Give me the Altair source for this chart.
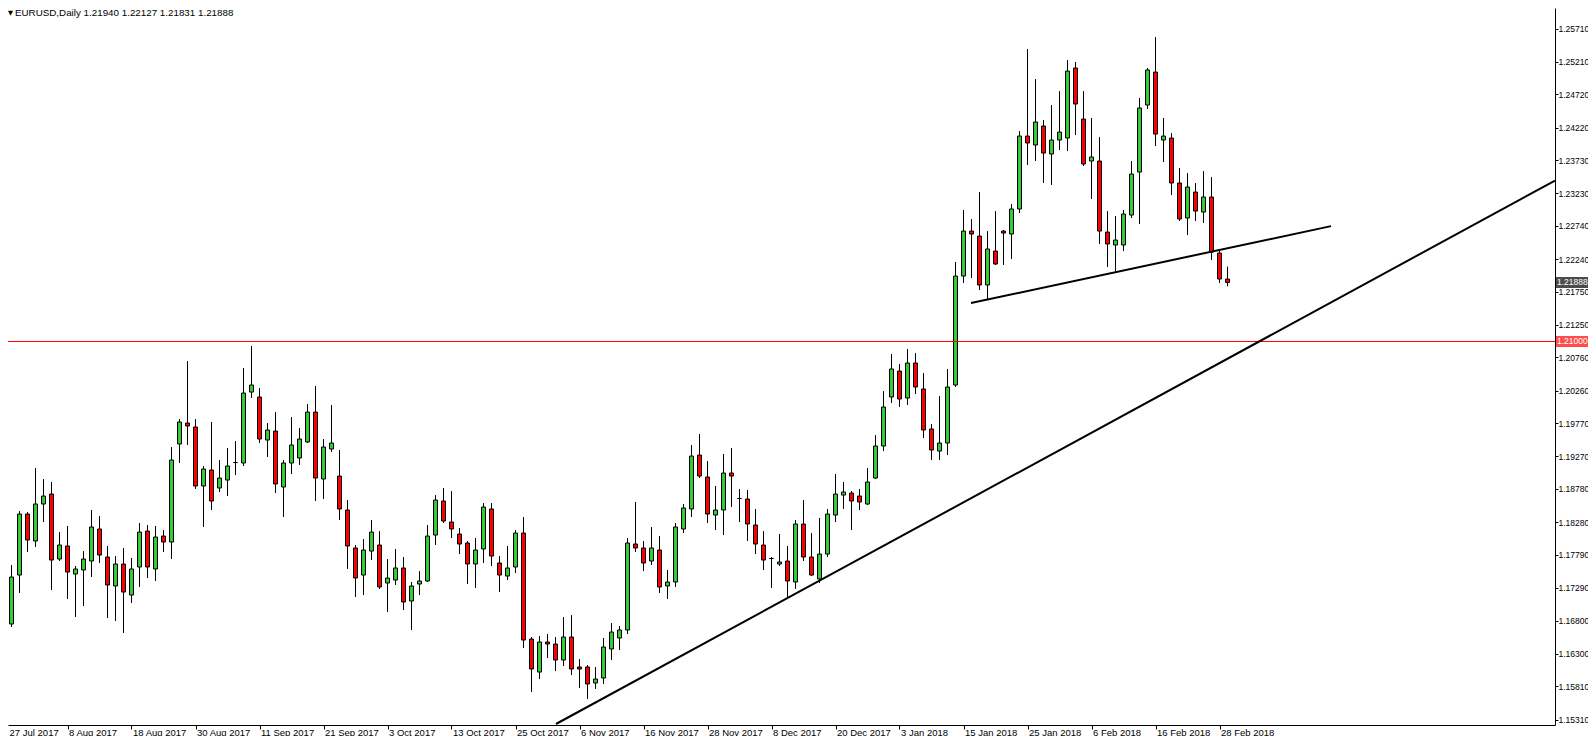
import altair as alt
import pandas as pd

# ---- daily OHLC, EURUSD, 27 Jul 2017 .. 1 Mar 2018 ----
opens = [1.17335, 1.16748, 1.17485, 1.18403, 1.17997, 1.18554, 1.18704, 1.17726, 1.17922, 1.17500,
         1.17561, 1.17696, 1.18178, 1.17756, 1.17320, 1.17651, 1.17184, 1.17606, 1.18147, 1.17576,
         1.18072, 1.17982, 1.19457, 1.19773, 1.19713, 1.18825, 1.19066, 1.18795, 1.18915, 1.19178,
         1.19171, 1.20239, 1.20164, 1.19517, 1.19652, 1.18810, 1.19171, 1.19246, 1.19487, 1.19938,
         1.18930, 1.19382, 1.18975, 1.18464, 1.17892, 1.17485, 1.17846, 1.17937, 1.17365, 1.17410,
         1.17591, 1.17094, 1.17350, 1.17395, 1.18087, 1.18599, 1.18283, 1.18102, 1.17967, 1.17651,
         1.17877, 1.18479, 1.17666, 1.17470, 1.17606, 1.18117, 1.16522, 1.16025, 1.16477, 1.16447,
         1.16206, 1.16552, 1.16101, 1.16101, 1.15860, 1.15935, 1.16372, 1.16537, 1.16658, 1.17952,
         1.17892, 1.17696, 1.17862, 1.17320, 1.17380, 1.18178, 1.18479, 1.19291, 1.18960, 1.18388,
         1.18464, 1.19020, 1.18637, 1.18629, 1.18238, 1.17937, 1.17734, 1.17651, 1.17696, 1.17380,
         1.18253, 1.17756, 1.17425, 1.17801, 1.18388, 1.18689, 1.18719, 1.18674, 1.18554, 1.18945,
         1.19427, 1.20164, 1.20555, 1.20149, 1.20676, 1.20285, 1.19683, 1.19351, 1.19472, 1.20345,
         1.21985, 1.22662, 1.22587, 1.21850, 1.22361, 1.22662, 1.22617, 1.22994, 1.24092, 1.23957,
         1.24243, 1.23821, 1.24032, 1.24062, 1.25116, 1.24348, 1.23716, 1.23716, 1.22647, 1.22452,
         1.22452, 1.22903, 1.23550, 1.24559, 1.25055, 1.24032, 1.24062, 1.23385, 1.22858, 1.23249,
         1.22948, 1.23174, 1.22331, 1.21940]
highs = [1.17756, 1.17636, 1.18448, 1.18433, 1.19096, 1.18930, 1.18885, 1.18132, 1.18223, 1.17621,
         1.17846, 1.18464, 1.18373, 1.17922, 1.17771, 1.17892, 1.17741, 1.18268, 1.18238, 1.18223,
         1.18163, 1.19412, 1.19833, 1.20706, 1.19833, 1.19126, 1.19788, 1.19216, 1.19397, 1.19502,
         1.20601, 1.20932, 1.20300, 1.19773, 1.19938, 1.19216, 1.19863, 1.19698, 1.20059, 1.20330,
         1.19532, 1.20044, 1.19367, 1.18614, 1.17937, 1.18027, 1.18313, 1.18147, 1.17726, 1.17877,
         1.17756, 1.17380, 1.17545, 1.18238, 1.18689, 1.18795, 1.18749, 1.18193, 1.17997, 1.18042,
         1.18569, 1.18569, 1.17771, 1.17922, 1.18163, 1.18358, 1.16552, 1.16567, 1.16597, 1.16552,
         1.16853, 1.16883, 1.16221, 1.16131, 1.16101, 1.16537, 1.16763, 1.16718, 1.18042, 1.18584,
         1.17997, 1.18208, 1.18072, 1.17561, 1.18268, 1.18554, 1.19442, 1.19607, 1.19201, 1.18825,
         1.19306, 1.19397, 1.18780, 1.18765, 1.18479, 1.18147, 1.17756, 1.18102, 1.17922, 1.18313,
         1.18614, 1.18117, 1.18343, 1.18479, 1.19005, 1.18885, 1.18749, 1.18780, 1.19096, 1.19592,
         1.20254, 1.20811, 1.20661, 1.20887, 1.20826, 1.20525, 1.19758, 1.20179, 1.20586, 1.22196,
         1.22979, 1.22843, 1.23249, 1.22662, 1.22963, 1.22678, 1.23069, 1.24167, 1.25402, 1.24950,
         1.24333, 1.24559, 1.24769, 1.25236, 1.25206, 1.24769, 1.24363, 1.24077, 1.22963, 1.22888,
         1.22979, 1.23716, 1.24664, 1.25116, 1.25582, 1.24363, 1.24137, 1.23611, 1.23535, 1.23385,
         1.23565, 1.23475, 1.22392, 1.22127]
lows = [1.16492, 1.16703, 1.17214, 1.17831, 1.17907, 1.18283, 1.17260, 1.17696, 1.17124, 1.16853,
        1.17019, 1.17455, 1.17666, 1.16838, 1.16793, 1.16612, 1.17064, 1.17305, 1.17440, 1.17395,
        1.17831, 1.17726, 1.19171, 1.19442, 1.18780, 1.18208, 1.18464, 1.18734, 1.18674, 1.18990,
        1.19126, 1.20149, 1.19472, 1.19261, 1.18719, 1.18358, 1.19005, 1.19141, 1.19472, 1.18599,
        1.18629, 1.19336, 1.18313, 1.17576, 1.17154, 1.17184, 1.17711, 1.17275, 1.16928, 1.17335,
        1.16959, 1.16658, 1.17184, 1.17380, 1.17937, 1.18268, 1.18042, 1.17801, 1.17350, 1.17290,
        1.17666, 1.17621, 1.17229, 1.17410, 1.17515, 1.16387, 1.15724, 1.15920, 1.16236, 1.16040,
        1.16116, 1.15980, 1.15785, 1.15619, 1.15770, 1.15845, 1.16206, 1.16357, 1.16597, 1.17831,
        1.17545, 1.17636, 1.17214, 1.17124, 1.17305, 1.18117, 1.18358, 1.18945, 1.18268, 1.18163,
        1.18087, 1.18509, 1.18283, 1.17997, 1.17801, 1.17561, 1.17290, 1.17621, 1.17139, 1.17275,
        1.17696, 1.17470, 1.17365, 1.17756, 1.18283, 1.18479, 1.18163, 1.18464, 1.18539, 1.18930,
        1.19351, 1.20074, 1.20014, 1.20044, 1.20209, 1.19547, 1.19216, 1.19216, 1.19291, 1.20315,
        1.21880, 1.21955, 1.21775, 1.21639, 1.22151, 1.22151, 1.22241, 1.22933, 1.23656, 1.23716,
        1.23385, 1.23355, 1.23882, 1.23866, 1.24107, 1.23641, 1.23144, 1.22467, 1.22121, 1.22060,
        1.22361, 1.22858, 1.22768, 1.24499, 1.23942, 1.23701, 1.23204, 1.22813, 1.22602, 1.22813,
        1.22783, 1.22226, 1.21880, 1.21831]
closes = [1.16733, 1.17455, 1.18403, 1.18012, 1.18554, 1.18674, 1.17711, 1.17937, 1.17530, 1.17576,
          1.17726, 1.18208, 1.17786, 1.17335, 1.17651, 1.17229, 1.17576, 1.18132, 1.17606, 1.18057,
          1.17982, 1.19216, 1.19788, 1.19728, 1.18825, 1.19081, 1.18599, 1.18945, 1.19126, 1.19178,
          1.20224, 1.20345, 1.19532, 1.19668, 1.18855, 1.19171, 1.19442, 1.19532, 1.19938, 1.18945,
          1.19412, 1.19472, 1.18479, 1.17922, 1.17440, 1.17862, 1.18132, 1.17305, 1.17440, 1.17591,
          1.17079, 1.17320, 1.17395, 1.18072, 1.18614, 1.18298, 1.18178, 1.17952, 1.17651, 1.17862,
          1.18509, 1.17771, 1.17485, 1.17591, 1.18117, 1.16507, 1.16071, 1.16477, 1.16447, 1.16206,
          1.16552, 1.16071, 1.16071, 1.15845, 1.15920, 1.16402, 1.16627, 1.16658, 1.17967, 1.17892,
          1.17666, 1.17892, 1.17305, 1.17380, 1.18208, 1.18494, 1.19276, 1.18975, 1.18403, 1.18464,
          1.19020, 1.18975, 1.18637, 1.18253, 1.17952, 1.17711, 1.17734, 1.17681, 1.17395, 1.18253,
          1.17756, 1.17485, 1.17801, 1.18403, 1.18704, 1.18734, 1.18599, 1.18584, 1.18885, 1.19427,
          1.20014, 1.20586, 1.20134, 1.20676, 1.20315, 1.19668, 1.19367, 1.19472, 1.20315, 1.21985,
          1.22662, 1.22617, 1.21850, 1.22392, 1.22166, 1.22632, 1.22994, 1.24092, 1.23987, 1.24303,
          1.23836, 1.24032, 1.24152, 1.25070, 1.24574, 1.23671, 1.23776, 1.22662, 1.22467, 1.22527,
          1.22918, 1.23520, 1.24514, 1.25086, 1.24122, 1.24092, 1.23385, 1.22843, 1.23325, 1.22963,
          1.23174, 1.22346, 1.21940, 1.21888]

# date labels every 8 bars, price axis labels
date_labels = ["27 Jul 2017", "8 Aug 2017", "18 Aug 2017", "30 Aug 2017", "11 Sep 2017",
               "21 Sep 2017", "3 Oct 2017", "13 Oct 2017", "25 Oct 2017", "6 Nov 2017",
               "16 Nov 2017", "28 Nov 2017", "8 Dec 2017", "20 Dec 2017", "3 Jan 2018",
               "15 Jan 2018", "25 Jan 2018", "6 Feb 2018", "16 Feb 2018", "28 Feb 2018"]
price_ticks = [1.25710, 1.25210, 1.24720, 1.24220, 1.23730, 1.23230, 1.22740, 1.22240,
               1.21750, 1.21250, 1.20760, 1.20260, 1.19770, 1.19270, 1.18780, 1.18280,
               1.17790, 1.17290, 1.16800, 1.16300, 1.15810, 1.15310]

# drawn objects (bar index, price)
support_bar = [69.06, 193.94]
support_price = [1.15243, 1.23422]
neck_bar = [120.94, 165.94]
neck_price = [1.21579, 1.22736]
level_price = 1.21000
last_price = 1.21888
header_mark = "\u25bc"
header = "EURUSD,Daily  1.21940 1.22127 1.21831 1.21888"

X_DOMAIN = [0.5625, 193.9375]
Y_DOMAIN = [1.15228, 1.26019]
FONT = "Liberation Sans"
GREEN = "#32CD32"
RED = "#FF0000"

n = len(opens)
df = pd.DataFrame({
    "i": list(range(n)),
    "open": opens, "high": highs, "low": lows, "close": closes,
})
df["dir"] = ["up" if c >= o else "down" for o, c in zip(opens, closes)]

label_expr = "[" + ",".join("'%s'" % d for d in date_labels) + "][round(datum.value/8)]"
# the first date tick sits left of the visible area: anchor its label at the left edge
tick_values = [X_DOMAIN[0] + 0.01] + list(range(8, 8 * len(date_labels), 8))

xaxis = alt.Axis(values=tick_values, labelExpr=label_expr,
                 title=None, grid=False, domainColor="black",
                 tickColor={"condition": {"test": "datum.value < 1", "value": "transparent"},
                            "value": "black"},
                 tickSize=4, labelAlign="left", labelOffset=1,
                 labelPadding=-2, labelBaseline="top",
                 labelFont=FONT, labelFontSize=9.5, labelColor="black", labelOverlap=False,
                 labelFlush=False)
yaxis = alt.Axis(orient="right", values=price_ticks, format=".5f", title=None, grid=False,
                 domainColor="black", tickColor="black", tickSize=3, labelPadding=0,
                 labelFont=FONT, labelFontSize=8.5, labelColor="black", labelOverlap=False,
                 labelFlush=False)

xs = alt.Scale(domain=X_DOMAIN, nice=False, zero=False, padding=0)
ys = alt.Scale(domain=Y_DOMAIN, nice=False, zero=False, padding=0)

base = alt.Chart(df)

wicks = base.mark_rule(color="black", strokeWidth=1, clip=True).encode(
    x=alt.X("i:Q", scale=xs, axis=xaxis),
    y=alt.Y("low:Q", scale=ys, axis=yaxis),
    y2="high:Q",
)

bodies = base.mark_bar(size=4, stroke="black", strokeWidth=1, clip=True).encode(
    x=alt.X("i:Q", scale=xs, axis=xaxis),
    y=alt.Y("open:Q", scale=ys, axis=yaxis),
    y2="close:Q",
    color=alt.Color("dir:N", scale=alt.Scale(domain=["up", "down"], range=[GREEN, RED]),
                    legend=None),
)

level = alt.Chart(pd.DataFrame({"p": [level_price]})).mark_rule(
    color=RED, strokeWidth=1).encode(y=alt.Y("p:Q", scale=ys, axis=yaxis))

lines_df = pd.DataFrame({
    "i": support_bar + neck_bar,
    "p": support_price + neck_price,
    "name": ["support", "support", "neck", "neck"],
})
trend = alt.Chart(lines_df).mark_line(color="black", strokeWidth=2, clip=True).encode(
    x=alt.X("i:Q", scale=xs, axis=xaxis),
    y=alt.Y("p:Q", scale=ys, axis=yaxis),
    detail="name:N",
)

tags_df = pd.DataFrame({
    "p": [last_price, level_price],
    "txt": ["%.5f" % last_price, "%.5f" % level_price],
    "bg": ["black", RED],
})
tag_boxes = alt.Chart(tags_df).mark_tick(orient="horizontal", thickness=11, size=32).encode(
    x=alt.value(1564),
    y=alt.Y("p:Q", scale=ys, axis=yaxis),
    color=alt.Color("bg:N", scale=None),
)
tag_text = alt.Chart(tags_df).mark_text(align="left", baseline="middle", font=FONT,
                                         fontSize=8.5, color="white").encode(
    x=alt.value(1549),
    y=alt.Y("p:Q", scale=ys, axis=yaxis),
    text="txt:N",
)

head_mark = alt.Chart(pd.DataFrame({"t": [header_mark]})).mark_text(
    align="left", baseline="middle", font="DejaVu Sans", fontSize=6.5, color="black").encode(
    x=alt.value(0), y=alt.value(4.5), text="t:N")
head = alt.Chart(pd.DataFrame({"t": [header]})).mark_text(
    align="left", baseline="middle", font=FONT, fontSize=9.8, color="black").encode(
    x=alt.value(7), y=alt.value(4.5), text="t:N")

chart = alt.layer(wicks, bodies, level, trend, tag_boxes, tag_text, head_mark, head).properties(
    width=1547, height=717,
    autosize=alt.AutoSizeParams(type="none"),
    padding={"left": 0, "top": 0, "right": 33, "bottom": 11},
    background="white",
).configure_view(strokeWidth=0)

chart.save("out.html", embed_options={"renderer": "svg", "actions": False})
